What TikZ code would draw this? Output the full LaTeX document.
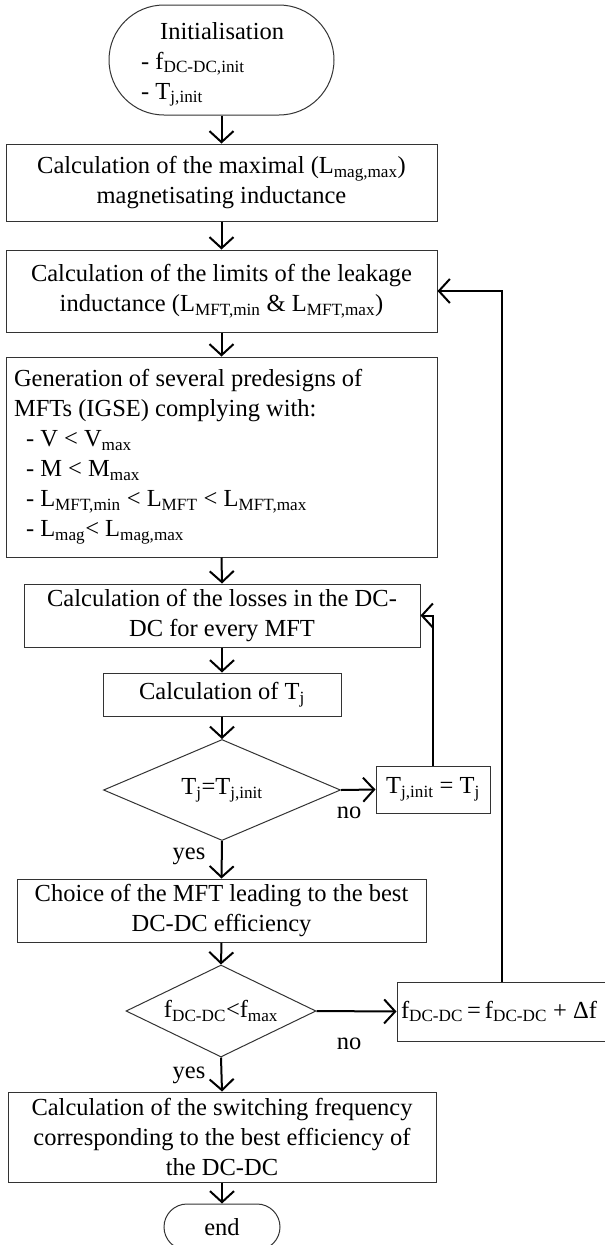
\documentclass[tikz,border=0pt]{standalone}
\usepackage{fontspec}
\setmainfont{Liberation Serif}
\usetikzlibrary{shapes.geometric,shapes.misc,arrows.meta}
\newcommand\sbs[1]{\textsubscript{#1}}
\begin{document}
\begin{tikzpicture}[x=1pt,y=-1pt,
  font=\fontsize{24.5}{30}\selectfont,
  box/.style={draw=black!80, line width=1pt, rectangle, inner sep=0pt, align=center},
  term/.style={draw=black!80, line width=1pt, rounded rectangle, inner sep=0pt},
  dec/.style={draw=black!80, line width=1pt, diamond, inner sep=0pt},
  arr/.style={line width=2pt, -{Straight Barb[length=11pt,width=24pt,line width=2pt]}},
  lbl/.style={inner sep=0pt}]
\clip (0,0) rectangle (605,1245);
\fill[white] (0,0) rectangle (605,1245);

\node[term, minimum width=225pt, minimum height=110pt] (start) at (221.5,60) {};
\node[lbl, align=flush left, anchor=north west] (starttext) at (141,22)
  {\hspace*{19pt}Initialisation\\- f\sbs{DC-DC,init}\\- T\sbs{j,init}};

\node[box, minimum width=431pt, minimum height=77pt] (b1) at (221.5,182.5)
  {Calculation of the maximal (L\sbs{mag,max})\\magnetisating inductance};
\node[box, minimum width=431pt, minimum height=82pt] (b2) at (221.5,291)
  {Calculation of the limits of the leakage\\inductance (L\sbs{MFT,min} \& L\sbs{MFT,max})};
\node[box, minimum width=431pt, minimum height=200pt, text width=415pt, inner xsep=8pt, align=flush left] (b3) at (221.5,457)
  {Generation of several predesigns of\\MFTs (IGSE) complying with:\\
   \hspace*{12pt}- V < V\sbs{max}\\
   \hspace*{12pt}- M < M\sbs{max}\\
   \hspace*{12pt}- L\sbs{MFT,min} < L\sbs{MFT} < L\sbs{MFT,max}\\
   \hspace*{12pt}- L\sbs{mag}< L\sbs{mag,max}};
\node[box, minimum width=396pt, minimum height=63pt] (b4) at (222,615.5)
  {Calculation of the losses in the DC-\\DC for every MFT};
\node[box, minimum width=238pt, minimum height=43pt] (b5) at (222,694.5)
  {Calculation of T\sbs{j}};
\node[dec, aspect=2.35, minimum width=237pt, minimum height=101pt] (d1) at (222,790)
  {T\sbs{j}=T\sbs{j,init}};
\node[box, minimum width=114pt, minimum height=47pt] (tji) at (433,789.5)
  {T\sbs{j,init} = T\sbs{j}};
\node[box, minimum width=409pt, minimum height=63pt] (b6) at (221.5,910.5)
  {Choice of the MFT leading to the best\\DC-DC efficiency};
\node[dec, aspect=2.07, minimum width=190pt, minimum height=92pt] (d2) at (221,1011)
  {f\sbs{DC-DC}<f\sbs{max}};
\node[box, minimum width=243pt, minimum height=59pt, text width=235pt, inner xsep=4pt, align=flush left] (fb) at (518.5,1011.5)
  {f\sbs{DC-DC}\,=\,f\sbs{DC-DC} + Δf};
\node[box, minimum width=428pt, minimum height=90pt] (b7) at (222,1137)
  {Calculation of the switching frequency\\corresponding to the best efficiency of\\the DC-DC};
\node[term, minimum width=116pt, minimum height=46pt] (stop) at (222,1227) {end};

\node[lbl] (no1) at (349,813) {no};
\node[lbl] (no2) at (349,1044) {no};
\node[lbl] (yes1) at (189,856) {yes};
\node[lbl] (yes2) at (189,1075) {yes};

\coordinate (floop) at ([xshift=105pt]fb.north west);

\draw[arr] (start.south) -- (b1.north);
\draw[arr] (b1.south) -- (b2.north);
\draw[arr] (b2.south) -- (b3.north);
\draw[arr] (b3.south) -- (b4.north);
\draw[arr] (b4.south) -- (b5.north);
\draw[arr] (b5.south) -- (d1.north);
\draw[arr] (d1.east) -- (tji.west);
\draw[arr] (tji.north) -- (tji.north |- b4.east) -- (b4.east);
\draw[arr] (d1.south) -- (b6.north);
\draw[arr] (b6.south) -- (d2.north);
\draw[arr] (d2.east) -- (fb.west);
\draw[arr] (floop) -- (floop |- b2.east) -- (b2.east);
\draw[arr] (d2.south) -- (b7.north);
\draw[arr] (b7.south) -- (stop.north);
\end{tikzpicture}
\end{document}
